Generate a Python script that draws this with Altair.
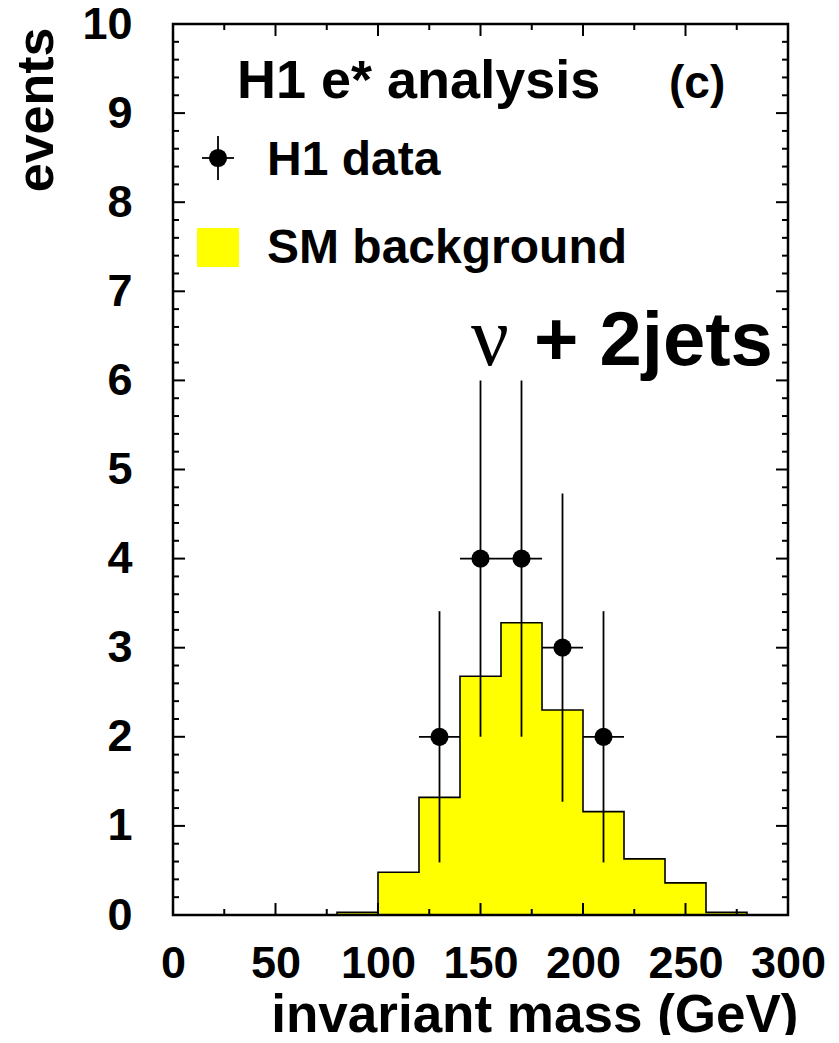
import altair as alt
import pandas as pd

# ---- data ----
bin_lo = [80, 100, 120, 140, 160, 180, 200, 220, 240, 260]
bin_hi = [100, 120, 140, 160, 180, 200, 220, 240, 260, 280]
bkg = [0.03, 0.48, 1.32, 2.68, 3.28, 2.30, 1.16, 0.63, 0.36, 0.03]

data_x = [130, 150, 170, 190, 210]
data_y = [2, 4, 4, 3, 2]
data_xlo = [120, 140, 160, 180, 200]
data_xhi = [140, 160, 180, 200, 220]
data_ylo = [0.59, 2.0, 2.0, 1.27, 0.59]
data_yhi = [3.41, 6.0, 6.0, 4.73, 3.41]

x_major = [0, 50, 100, 150, 200, 250, 300]
x_minor = [25, 75, 125, 175, 225, 275]
y_major = [0, 1, 2, 3, 4, 5, 6, 7, 8, 9, 10]
y_minor = [round(v / 5, 1) for v in range(0, 51) if v % 5 != 0]

W, H = 615, 891
FONT = "Liberation Sans"

xs = alt.Scale(domain=[0, 300], nice=False, zero=False)
ys = alt.Scale(domain=[0, 10], nice=False, zero=False)

hist = pd.DataFrame({"lo": bin_lo, "hi": bin_hi, "v": bkg})
step_x = [bin_lo[0], bin_lo[0]] + bin_lo[1:] + [bin_hi[-1], bin_hi[-1]]
step_y = [0, bkg[0]] + bkg[1:] + [bkg[-1], 0]
step = pd.DataFrame({"x": step_x, "y": step_y, "i": list(range(len(step_x)))})
pts = pd.DataFrame({"x": data_x, "y": data_y, "xlo": data_xlo, "xhi": data_xhi,
                    "ylo": data_ylo, "yhi": data_yhi})

bars = alt.Chart(hist).mark_rect(color="#FFFF00").encode(
    x=alt.X("lo:Q", scale=xs, axis=alt.Axis(
        values=x_major, format="d", title="invariant mass (GeV)", ticks=False, tickSize=0,
        domain=False, grid=False, labelPadding=26, labelFlush=False, labelOverlap=False,
        titleX=625, titleY=116, titleAlign="right", titleBaseline="alphabetic",
        titleFontSize=53, titleFont=FONT, titleFontWeight="bold", titleColor="black",
        labelFontSize=45, labelFont=FONT, labelFontWeight="bold", labelColor="black")),
    x2="hi:Q",
    y=alt.Y("v:Q", scale=ys, axis=alt.Axis(
        values=y_major, format="d", title="events", ticks=False, tickSize=0, domain=False,
        grid=False, labelPadding=41, labelFlush=False, labelOverlap=False,
        titleX=-121, titleY=3, titleAngle=270, titleAlign="right", titleBaseline="alphabetic",
        titleFontSize=52, titleFont=FONT, titleFontWeight="bold", titleColor="black",
        labelFontSize=45, labelFont=FONT, labelFontWeight="bold", labelColor="black")),
    y2=alt.datum(0),
)

outline = alt.Chart(step).mark_line(color="black", strokeWidth=1.6, interpolate="step-after").encode(
    x=alt.X("x:Q", scale=xs),
    y=alt.Y("y:Q", scale=ys),
    order="i:Q",
)

vbars = alt.Chart(pts).mark_rule(color="black", strokeWidth=1.8).encode(
    x=alt.X("x:Q", scale=xs),
    y=alt.Y("ylo:Q", scale=ys), y2="yhi:Q")
hbars = alt.Chart(pts).mark_rule(color="black", strokeWidth=1.8).encode(
    x=alt.X("xlo:Q", scale=xs), x2="xhi:Q",
    y=alt.Y("y:Q", scale=ys))
dots = alt.Chart(pts).mark_point(filled=True, shape="circle", size=330, color="black", opacity=1).encode(
    x=alt.X("x:Q", scale=xs),
    y=alt.Y("y:Q", scale=ys))

def xticks(vals, ln):
    df = pd.DataFrame({"t": vals})
    bot = alt.Chart(df).mark_rule(color="black", strokeWidth=2).encode(
        x=alt.X("t:Q", scale=xs), y=alt.value(H), y2=alt.value(H - ln))
    top = alt.Chart(df).mark_rule(color="black", strokeWidth=2).encode(
        x=alt.X("t:Q", scale=xs), y=alt.value(0), y2=alt.value(ln))
    return [bot, top]

def yticks(vals, ln):
    df = pd.DataFrame({"t": vals})
    left = alt.Chart(df).mark_rule(color="black", strokeWidth=2).encode(
        y=alt.Y("t:Q", scale=ys), x=alt.value(0), x2=alt.value(ln))
    right = alt.Chart(df).mark_rule(color="black", strokeWidth=2).encode(
        y=alt.Y("t:Q", scale=ys), x=alt.value(W), x2=alt.value(W - ln))
    return [left, right]

ticks = xticks(x_major, 12) + xticks(x_minor, 6) + yticks(y_major, 12) + yticks(y_minor, 6)

one = pd.DataFrame({"a": [0]})
frame = alt.Chart(one).mark_rect(fillOpacity=0, stroke="black", strokeWidth=2.5).encode(
    x=alt.value(0), x2=alt.value(W), y=alt.value(0), y2=alt.value(H))

def label(txt, x, y, size, font=FONT, weight="bold"):
    return alt.Chart(one).mark_text(text=txt, align="left", baseline="alphabetic",
                                    font=font, fontSize=size, fontWeight=weight,
                                    color="black").encode(x=alt.value(x), y=alt.value(y))

texts = [
    label("H1 e* analysis", 64, 74, 54),
    label("(c)", 496, 74, 46),
    label("H1 data", 94, 151, 48),
    label("SM background", 94, 239, 48),
    label("ν", 298, 341, 84, font="Liberation Serif", weight="normal"),
    label("+ 2jets", 361, 341, 76),
]

leg_v = alt.Chart(one).mark_rule(color="black", strokeWidth=1.8).encode(
    x=alt.value(45), y=alt.value(112), y2=alt.value(156))
leg_h = alt.Chart(one).mark_rule(color="black", strokeWidth=1.8).encode(
    x=alt.value(29), x2=alt.value(61), y=alt.value(134))
leg_dot = alt.Chart(one).mark_point(filled=True, shape="circle", size=330, color="black", opacity=1).encode(
    x=alt.value(45), y=alt.value(134))
leg_sq = alt.Chart(one).mark_rect(color="#FFFF00").encode(
    x=alt.value(24), x2=alt.value(66), y=alt.value(204), y2=alt.value(243))

chart = alt.layer(
    bars, outline, vbars, hbars, dots, *ticks, frame, *texts, leg_v, leg_h, leg_dot, leg_sq
).properties(
    width=W, height=H,
    autosize=alt.AutoSizeParams(type="none"),
    padding={"left": 165, "top": 16, "right": 43, "bottom": 120},
    background="white",
).configure_view(stroke=None)

chart.save("out.html", embed_options={"renderer": "svg", "actions": False})
